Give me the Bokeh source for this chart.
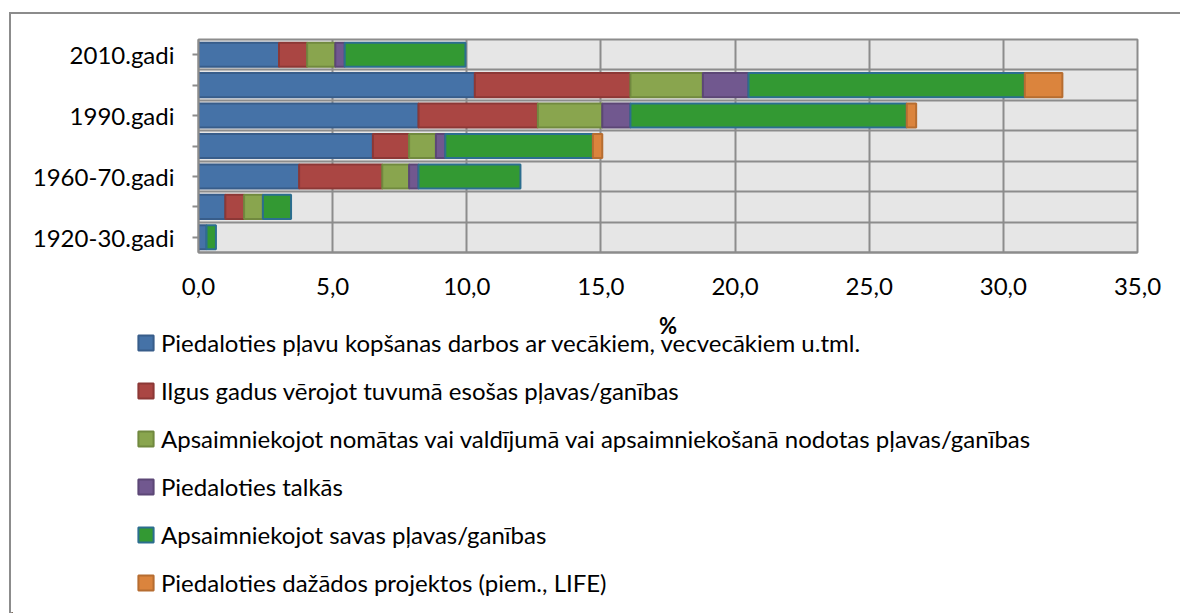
import numpy as np
from bokeh.plotting import figure
from bokeh.models import ColumnDataSource, FixedTicker, Legend, LegendItem, Range1d, Label
from bokeh.embed import file_html
from bokeh.resources import INLINE

# ---- data ----
row_labels = ["1920-30.gadi", "", "1960-70.gadi", "", "1990.gadi", "", "2010.gadi"]
series_names = [
    "Piedaloties pļavu kopšanas darbos ar vecākiem, vecvecākiem u.tml.",
    "Ilgus gadus vērojot tuvumā esošas pļavas/ganības",
    "Apsaimniekojot nomātas vai valdījumā vai apsaimniekošanā nodotas pļavas/ganības",
    "Piedaloties talkās",
    "Apsaimniekojot savas pļavas/ganības",
    "Piedaloties dažādos projektos (piem., LIFE)",
]
# values per row (bottom row first), %
s_parents  = [0.3, 1.0, 3.75, 6.5, 8.2, 10.3, 3.0]
s_observe  = [0.0, 0.7, 3.1, 1.35, 4.45, 5.8, 1.05]
s_rented   = [0.0, 0.7, 1.0, 1.0, 2.4, 2.7, 1.05]
s_talkas   = [0.0, 0.0, 0.35, 0.35, 1.05, 1.7, 0.35]
s_own      = [0.35, 1.05, 3.8, 5.5, 10.3, 10.3, 4.5]
s_projects = [0.0, 0.0, 0.0, 0.35, 0.35, 1.4, 0.0]
x_ticks = [0, 5, 10, 15, 20, 25, 30, 35]
x_tick_labels = ["0,0", "5,0", "10,0", "15,0", "20,0", "25,0", "30,0", "35,0"]
x_title = "%"

fills = ["#4572A7", "#AA4643", "#89A54E", "#71588F", "#339933", "#DB843D"]
lines = ["#385D8A", "#8C3836", "#71893F", "#5C4776", "#2C6E8F", "#B66D31"]

FONT = "Lato"
GRID = "#8c8c8c"
W = 1171
H_TOP = 293
H_BOT = 308
FRAME_L, FRAME_W, FRAME_T, FRAME_H = 187, 939, 25, 213

# ---------------- chart ----------------
p = figure(width=W, height=H_TOP, output_backend="svg", toolbar_location=None,
           x_range=Range1d(0, 35), y_range=Range1d(-0.5, 6.5),
           min_border_left=FRAME_L, min_border_right=W - FRAME_L - FRAME_W,
           min_border_top=FRAME_T, min_border_bottom=H_TOP - FRAME_T - FRAME_H)
p.background_fill_color = "#e6e6e6"
p.border_fill_color = "white"
p.outline_line_color = GRID
p.outline_line_width = 2
p.styles = {"margin-left": "9px", "margin-top": "12px",
            "border-left": "2px solid #8c8c8c", "border-top": "2px solid #8c8c8c"}

all_series = [s_parents, s_observe, s_rented, s_talkas, s_own, s_projects]
ypos = np.arange(len(row_labels))
cum = np.zeros(len(row_labels))
for vals, fc, lc in zip(all_series, fills, lines):
    v = np.array(vals, dtype=float)
    left = cum.copy()
    right = cum + v
    cum = right
    mask = v > 0
    src = ColumnDataSource(dict(y=ypos[mask], left=left[mask], right=right[mask]))
    p.hbar(y="y", left="left", right="right", height=0.79, source=src,
           fill_color=fc, line_color=lc, line_width=2)

p.xaxis.ticker = FixedTicker(ticks=x_ticks)
p.xaxis.major_label_overrides = {t: l for t, l in zip(x_ticks, x_tick_labels)}
p.xaxis.major_tick_out = 0
p.xaxis.major_tick_in = 0
p.xaxis.minor_tick_out = 0
p.xaxis.minor_tick_in = 0
p.xaxis.axis_line_color = GRID
p.xaxis.axis_line_width = 2
p.xaxis.major_label_text_font = FONT
p.xaxis.major_label_text_font_size = "24px"
p.xaxis.major_label_text_color = "black"
p.xaxis.major_label_standoff = 25

p.yaxis.ticker = FixedTicker(ticks=list(ypos))
p.yaxis.major_label_overrides = {int(i): l for i, l in zip(ypos, row_labels)}
p.yaxis.major_tick_out = 6
p.yaxis.major_tick_in = 0
p.yaxis.minor_tick_out = 0
p.yaxis.minor_tick_in = 0
p.yaxis.major_tick_line_color = GRID
p.yaxis.major_tick_line_width = 2
p.yaxis.axis_line_color = GRID
p.yaxis.axis_line_width = 2
p.yaxis.major_label_text_font = FONT
p.yaxis.major_label_text_font_size = "24px"
p.yaxis.major_label_text_color = "black"
p.yaxis.major_label_standoff = 18

p.xgrid.ticker = FixedTicker(ticks=x_ticks[1:-1])
p.xgrid.grid_line_color = GRID
p.xgrid.grid_line_width = 2
p.ygrid.ticker = FixedTicker(ticks=[i + 0.5 for i in range(len(row_labels) - 1)])
p.ygrid.grid_line_color = GRID
p.ygrid.grid_line_width = 2

# ---------------- axis title + legend ----------------
q = figure(width=W, height=H_BOT, output_backend="svg", toolbar_location=None,
           x_range=Range1d(0, W), y_range=Range1d(0, H_BOT),
           x_axis_location=None, y_axis_location=None,
           min_border=0, min_border_left=0, min_border_right=0,
           min_border_top=0, min_border_bottom=0)
q.outline_line_color = None
q.background_fill_color = "white"
q.border_fill_color = "white"
q.grid.visible = False
q.styles = {"margin-left": "9px", "border-left": "2px solid #8c8c8c"}

# x-axis title, centred under the chart's plotting area
q.add_layout(Label(x=FRAME_L + FRAME_W / 2, y=H_BOT - 20, text=x_title, text_font=FONT,
                   text_font_size="22px", text_font_style="bold", text_color="black",
                   text_align="center", text_baseline="middle"))

# legend proxies (one bar each, placed outside the visible range)
legend_renderers = []
for fc, lc in zip(fills, lines):
    r = q.hbar(y=[-1000], left=[0], right=[1], height=1, fill_color=fc, line_color=lc, line_width=2)
    legend_renderers.append(r)

items = [LegendItem(label=n, renderers=[r]) for n, r in zip(series_names, legend_renderers)]
legend = Legend(items=items, location=(125, 16), orientation="vertical",
                glyph_width=19, glyph_height=19, label_standoff=6,
                label_height=28, spacing=19, padding=0, margin=0,
                label_text_font=FONT, label_text_font_size="24px", label_text_color="black",
                border_line_color=None, background_fill_alpha=0)
q.add_layout(legend, "center")

open("out.html", "w").write(file_html([p, q], INLINE))
